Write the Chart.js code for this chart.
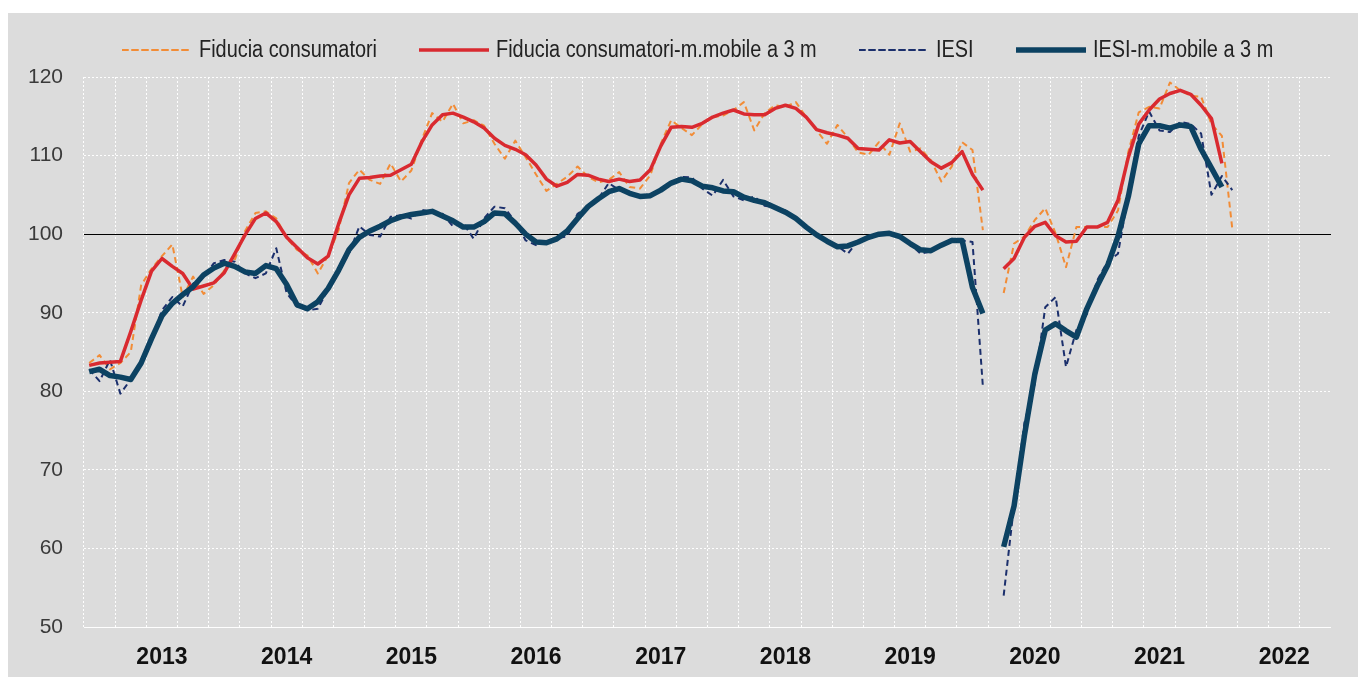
<!DOCTYPE html>
<html>
<head>
<meta charset="utf-8">
<script src="https://cdn.jsdelivr.net/npm/chart.js@4.4.1/dist/chart.umd.min.js"></script>
<style>
  body { margin: 0; background: #fff; }
  #wrap { position: absolute; left: 8px; top: 13px; width: 1350px; height: 664px; background: #dcdcdc; }
  #box { position: absolute; left: 0; top: 0; width: 1350px; height: 664px; }
  #legend { position: absolute; left: 0; top: 23px; width: 100%; display: flex; justify-content: center;
            padding-left: 29px; box-sizing: border-box;
            font-family: "Liberation Sans Narrow", "Arial Narrow", "Liberation Sans", sans-serif; font-size: 23px; color: #222; }
  #legend .item { display: flex; align-items: center; margin: 0 21px; white-space: nowrap; }
  #legend svg { margin-right: 7px; }
  #legend span { display: inline-block; transform-origin: 0 50%; }
</style>
</head>
<body>
<div id="wrap">
  <div id="box"><canvas id="myChart"></canvas></div>
  <div id="legend"></div>
</div>
<script>
// monthly, Jan 2013 - Dec 2022 (axis), data up to Mar 2022; Apr 2020 not surveyed
var years = [2013, 2014, 2015, 2016, 2017, 2018, 2019, 2020, 2021, 2022];
var months = ['gen', 'feb', 'mar', 'apr', 'mag', 'giu', 'lug', 'ago', 'set', 'ott', 'nov', 'dic'];

var fiducia = [
    83.6, 84.6, 82.8, 83.6, 85.0, 93.5, 95.6, 97.2, 98.7, 92.0, 94.6, 92.4,
    93.5, 95.4, 96.7, 100.4, 102.7, 102.9, 102.0, 99.5, 98.0, 97.3, 95.0, 97.3,
    100.5, 106.5, 108.2, 106.9, 106.4, 109.0, 106.7, 108.1, 112.0, 115.4, 114.3, 116.6,
    114.1, 114.5, 113.8, 111.5, 109.6, 111.9, 109.8, 107.6, 105.5, 106.4, 107.3, 108.6,
    107.3, 106.6, 106.9, 107.9, 106.0, 105.8, 107.5, 111.5, 114.5, 113.5, 112.6, 114.0,
    114.9, 115.1, 115.8, 116.8, 113.2, 115.4, 116.4, 116.2, 116.8, 114.9, 113.2, 111.5,
    113.9, 112.3, 110.4, 110.1, 111.7, 110.1, 114.1, 110.5, 110.9, 109.4, 106.7, 108.6,
    111.7, 110.7, 100.5, null, 92.5, 98.8, 99.7, 101.8, 103.3, 100.1, 95.8, 100.9,
    100.9, 100.9, 100.9, 103.0, 110.5, 115.5, 116.2, 116.0, 119.3, 118.3, 117.6, 117.5,
    114.0, 112.5, 100.7
];
var fiduciaMM3 = [
    83.3, 83.6, 83.7, 83.8, 87.6, 91.6, 95.3, 96.9, 95.9, 95.0, 93.0, 93.4,
    93.8, 95.1, 97.5, 99.9, 102.0, 102.7, 101.6, 99.6, 98.3, 97.0, 96.2, 97.2,
    101.3, 105.0, 107.1, 107.2, 107.4, 107.5, 108.2, 108.9, 111.7, 113.9, 115.2, 115.4,
    114.9, 114.3, 113.5, 112.2, 111.3, 110.8, 110.1, 108.8, 107.0, 106.1, 106.6, 107.6,
    107.5, 107.0, 106.7, 107.0, 106.7, 106.9, 108.2, 111.2, 113.6, 113.7, 113.6, 114.1,
    114.9, 115.4, 115.8, 115.3, 115.2, 115.2, 116.0, 116.4, 116.0, 114.9, 113.3, 112.9,
    112.6, 112.2, 110.9, 110.8, 110.7, 112.0, 111.6, 111.8, 110.5, 109.2, 108.4, 109.1,
    110.5, 107.6, 105.6, null, 95.6, 96.9, 99.6, 101.0, 101.5, 99.8, 99.0, 99.1,
    100.9, 100.9, 101.5, 104.3, 109.8, 114.0, 115.8, 117.2, 117.9, 118.3, 117.8, 116.4,
    114.7, 109.0
];
var iesi = [
    82.8, 81.3, 84.0, 79.7, 81.5, 83.5, 86.5, 90.3, 92.0, 90.8, 93.7, 94.6,
    96.3, 96.7, 96.5, 95.0, 94.4, 95.0, 98.2, 92.5, 90.8, 90.3, 90.5, 93.0,
    95.4, 97.5, 101.0, 99.9, 99.7, 102.2, 102.4, 102.0, 103.1, 102.8, 102.6, 101.0,
    101.4, 99.4, 102.0, 103.5, 103.3, 101.6, 99.2, 98.6, 99.0, 99.5, 99.7, 102.6,
    103.5, 104.5, 106.5, 105.6, 105.4, 104.8, 105.0, 105.6, 106.5, 107.3, 107.2, 105.8,
    104.9, 106.9, 104.8, 104.3, 104.8, 103.6, 103.4, 103.0, 102.0, 100.7, 99.8, 99.0,
    98.5, 97.5, 99.2, 99.6, 100.0, 100.3, 99.6, 98.8, 97.5, 97.8, 98.7, 99.4,
    99.2, 99.0, 80.6, null, 54.0, 65.5, 76.0, 81.0, 90.7, 92.0, 83.1, 87.8,
    89.8, 94.1, 96.5, 97.5, 105.0, 112.5, 115.6, 113.2, 113.0, 114.3, 114.0, 112.8,
    105.0, 107.4, 105.6
];
var iesiMM3 = [
    82.5, 82.8, 82.0, 81.8, 81.5, 83.6, 86.7, 89.6, 91.2, 92.3, 93.3, 94.8,
    95.7, 96.3, 95.9, 95.2, 95.0, 96.0, 95.6, 93.6, 91.0, 90.5, 91.4, 93.1,
    95.4, 98.0, 99.6, 100.4, 101.0, 101.7, 102.2, 102.5, 102.7, 102.9, 102.3, 101.7,
    100.9, 100.9, 101.6, 102.7, 102.6, 101.4, 100.0, 99.0, 98.9, 99.4, 100.4, 102.0,
    103.5, 104.5, 105.4, 105.8, 105.2, 104.8, 104.9, 105.6, 106.5, 107.0, 106.8, 106.1,
    105.9, 105.5, 105.4, 104.7, 104.3, 104.0, 103.4, 102.8, 102.0, 100.9, 99.9, 99.1,
    98.4, 98.5, 99.0, 99.6, 100.0, 100.1, 99.7, 98.8, 98.0, 97.9, 98.6, 99.2,
    99.2, 93.2, 89.9, null, 60.2, 65.4, 74.4, 82.2, 87.8, 88.6, 87.7, 86.9,
    90.5, 93.4, 96.0, 99.7, 104.8, 111.5, 113.8, 113.8, 113.5, 113.9, 113.7, 110.8,
    108.4, 106.0
];

var labels = [];
years.forEach(function (y) {
    months.forEach(function (m) { labels.push(m + ' ' + y); });
});

var narrow = '"Liberation Sans Narrow", "Arial Narrow", "Liberation Sans", sans-serif';
var ctx = document.getElementById('myChart').getContext('2d');

var myChart = new Chart(ctx, {
    type: 'line',
    data: {
        labels: labels,
        datasets: [{
            label: 'Fiducia consumatori',
            data: fiducia,
            borderColor: '#f28c36',
            borderWidth: 2,
            borderDash: [6, 4],
            order: 3
        }, {
            label: 'Fiducia consumatori-m.mobile a 3 m',
            data: fiduciaMM3,
            borderColor: '#d92a30',
            borderWidth: 3.5,
            order: 1
        }, {
            label: 'IESI',
            data: iesi,
            borderColor: '#1b2f6c',
            borderWidth: 2,
            borderDash: [6, 4],
            order: 2
        }, {
            label: 'IESI-m.mobile a 3 m',
            data: iesiMM3,
            borderColor: '#0c4262',
            borderWidth: 5.5,
            order: 0
        }]
    },
    options: {
        responsive: true,
        maintainAspectRatio: false,
        animation: false,
        spanGaps: false,
        elements: {
            point: { radius: 0, hoverRadius: 0 },
            line: { tension: 0, fill: false, borderJoinStyle: 'round' }
        },
        layout: { padding: { top: 64, right: 27, bottom: 0, left: 0 } },
        plugins: {
            legend: { display: false },
            tooltip: { enabled: false }
        },
        scales: {
            x: {
                offset: true,
                afterFit: function (s) { s.height = 50; },
                grid: {
                    offset: true,
                    drawTicks: false,
                    lineWidth: 1,
                    color: function (c) { return c.index % 3 === 0 ? 'rgba(255,255,255,0.95)' : 'rgba(0,0,0,0)'; }
                },
                border: { display: false, dash: [2, 2] },
                ticks: {
                    autoSkip: false,
                    maxRotation: 0,
                    padding: 17,
                    color: '#111',
                    font: { family: narrow, size: 23, weight: 'bold' },
                    callback: function (v, i) {
                        // year label under the middle of each year
                        return i % 12 === 7 ? this.getLabelForValue(v).slice(-4) : '';
                    }
                }
            },
            y: {
                min: 50,
                max: 120,
                afterFit: function (s) { s.width = 76; },
                grid: {
                    drawTicks: false,
                    lineWidth: 1,
                    color: function (c) { return c.tick && c.tick.value === 100 ? '#000' : 'rgba(255,255,255,0.95)'; }
                },
                border: {
                    display: false,
                    dash: function (c) { return c.tick && (c.tick.value === 100 || c.tick.value === 50) ? [] : [2, 2]; }
                },
                ticks: {
                    stepSize: 10,
                    padding: 21,
                    color: '#3a3a3a',
                    font: { family: narrow, size: 21 }
                }
            }
        }
    }
});

// legend built from the datasets, text squeezed to look like a narrow face
var legend = document.getElementById('legend');
myChart.data.datasets.forEach(function (ds) {
    var item = document.createElement('div');
    item.className = 'item';
    var dash = ds.borderDash ? ' stroke-dasharray="' + ds.borderDash.join(',') + '"' : '';
    item.innerHTML = '<svg width="70" height="12"><line x1="0" y1="6" x2="70" y2="6" stroke="' + ds.borderColor +
        '" stroke-width="' + ds.borderWidth + '"' + dash + ' stroke-linecap="round"/></svg><span>' + ds.label + '</span>';
    legend.appendChild(item);
    var span = item.querySelector('span');
    var w = span.getBoundingClientRect().width;
    span.style.transform = 'scaleX(0.865)';
    span.style.marginRight = (-w * 0.135) + 'px';
});
</script>
</body>
</html>
